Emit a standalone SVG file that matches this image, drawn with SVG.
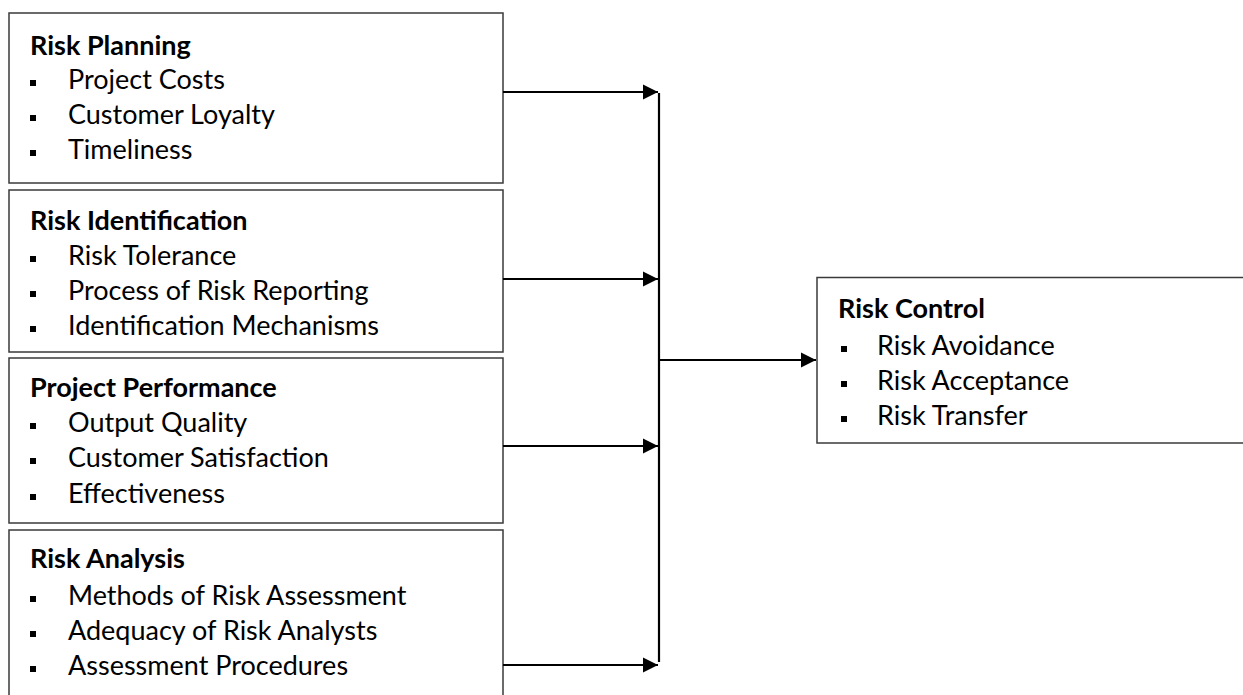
<svg xmlns="http://www.w3.org/2000/svg" width="1243" height="695" viewBox="0 0 1243 695">
  <style>
    .box { fill: #ffffff; stroke: #3a3a3a; stroke-width: 1.5; }
    .title { font-family: Lato, "Open Sans", sans-serif; font-weight: 700; font-size: 27px; fill: #000; }
    .item { font-family: Lato, "Open Sans", sans-serif; font-size: 27px; fill: #000; }
    .bullet { fill: #000; }
    .conn { stroke: #000; stroke-width: 2.2; fill: none; }
  </style>
  <defs>
    <marker id="arrow" markerUnits="userSpaceOnUse" markerWidth="16" markerHeight="16" refX="15" refY="8" orient="auto">
      <path d="M0,0.5 L15,8 L0,15.5 Z" fill="#000"/>
    </marker>
  </defs>
  <rect width="1243" height="695" fill="#ffffff"/>

  <g id="risk-planning">
    <rect class="box" x="9" y="13" width="494" height="170"/>
    <text class="title" x="30" y="55">Risk Planning</text>
    <rect class="bullet" x="30" y="80" width="6" height="6"/>
    <text class="item" x="68" y="89">Project Costs</text>
    <rect class="bullet" x="30" y="115" width="6" height="6"/>
    <text class="item" x="68" y="124">Customer Loyalty</text>
    <rect class="bullet" x="30" y="150" width="6" height="6"/>
    <text class="item" x="68" y="159">Timeliness</text>
  </g>

  <g id="risk-identification">
    <rect class="box" x="9" y="190" width="494" height="162"/>
    <text class="title" x="30" y="230">Risk Identification</text>
    <rect class="bullet" x="30" y="256" width="6" height="6"/>
    <text class="item" x="68" y="265">Risk Tolerance</text>
    <rect class="bullet" x="30" y="291" width="6" height="6"/>
    <text class="item" x="68" y="300">Process of Risk Reporting</text>
    <rect class="bullet" x="30" y="326" width="6" height="6"/>
    <text class="item" x="68" y="335">Identification Mechanisms</text>
  </g>

  <g id="project-performance">
    <rect class="box" x="9" y="358" width="494" height="165"/>
    <text class="title" x="30" y="397">Project Performance</text>
    <rect class="bullet" x="30" y="423" width="6" height="6"/>
    <text class="item" x="68" y="432">Output Quality</text>
    <rect class="bullet" x="30" y="458" width="6" height="6"/>
    <text class="item" x="68" y="467">Customer Satisfaction</text>
    <rect class="bullet" x="30" y="494" width="6" height="6"/>
    <text class="item" x="68" y="503">Effectiveness</text>
  </g>

  <g id="risk-analysis">
    <rect class="box" x="9" y="530" width="494" height="180"/>
    <text class="title" x="30" y="568">Risk Analysis</text>
    <rect class="bullet" x="30" y="596" width="6" height="6"/>
    <text class="item" x="68" y="605">Methods of Risk Assessment</text>
    <rect class="bullet" x="30" y="631" width="6" height="6"/>
    <text class="item" x="68" y="640">Adequacy of Risk Analysts</text>
    <rect class="bullet" x="30" y="666" width="6" height="6"/>
    <text class="item" x="68" y="675">Assessment Procedures</text>
  </g>

  <g id="risk-control">
    <rect class="box" x="817" y="277.5" width="440" height="165.5"/>
    <text class="title" x="838" y="318">Risk Control</text>
    <rect class="bullet" x="841" y="346" width="6" height="6"/>
    <text class="item" x="877" y="355">Risk Avoidance</text>
    <rect class="bullet" x="841" y="381" width="6" height="6"/>
    <text class="item" x="877" y="390">Risk Acceptance</text>
    <rect class="bullet" x="841" y="416" width="6" height="6"/>
    <text class="item" x="877" y="425">Risk Transfer</text>
  </g>

  <g id="connectors">
    <line class="conn" x1="503" y1="92" x2="658" y2="92" marker-end="url(#arrow)"/>
    <line class="conn" x1="503" y1="279" x2="658" y2="279" marker-end="url(#arrow)"/>
    <line class="conn" x1="503" y1="446" x2="658" y2="446" marker-end="url(#arrow)"/>
    <line class="conn" x1="503" y1="665" x2="658" y2="665" marker-end="url(#arrow)"/>
    <line class="conn" x1="659" y1="93" x2="659" y2="662"/>
    <line class="conn" x1="659" y1="360" x2="816" y2="360" marker-end="url(#arrow)"/>
  </g>
</svg>
